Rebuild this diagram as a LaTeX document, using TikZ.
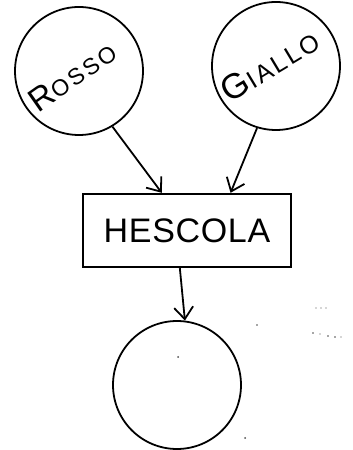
\documentclass[tikz,border=0pt]{standalone}
\usepackage{fontspec}
\setmainfont{Liberation Sans}
\usetikzlibrary{arrows.meta,calc}
\begin{document}
\begin{tikzpicture}[x=1pt,y=1pt,
  circ/.style={draw,circle,line width=1.8pt,minimum size=128pt,inner sep=0pt},
  boxnode/.style={draw,rectangle,line width=2.4pt,minimum width=208pt,minimum height=73pt,inner sep=0pt},
  conn/.style={line width=1.8pt,-{Straight Barb[length=12pt,width=19pt,line width=1.8pt]}},
  speck/.style={fill=black!70,draw=none}]
\useasboundingbox (0,0) rectangle (353,450);
\node[circ] (ro) at (79,379) {};
\node[circ] (gi) at (276,384) {};
\node[boxnode] (box) at (187,219.5) {};
\node[circ] (out) at (177,65) {};
\node[rotate=35] (rotxt) at (72,374) {{\fontsize{33}{33}\selectfont R}{\fontsize{23}{23}\selectfont\addfontfeature{LetterSpace=12}OSSO}};
\node[rotate=31] (gitxt) at (270,385) {{\fontsize{35}{35}\selectfont G}{\fontsize{25}{25}\selectfont\addfontfeature{LetterSpace=10}IALLO}};
\node (boxtxt) at (box.center) {\fontsize{34}{34}\selectfont\addfontfeature{LetterSpace=2}HESCOLA};
\coordinate (e1) at ($(box.north west)!0.38!(box.north east)$);
\coordinate (e2) at ($(box.north west)!0.707!(box.north east)$);
\coordinate (s3) at ($(box.south west)!0.466!(box.south east)$);
\draw[conn] (ro.-59.5) -- (e1);
\draw[conn] (gi.-107) -- (e2);
\draw[conn] (s3) -- (out.83);
\fill[speck] (257,125) circle (0.8);
\fill[speck] (178,93) circle (1);
\fill[speck] (245,12) circle (1);
\fill[speck] (316,142) circle (0.6);
\fill[speck] (321,142) circle (0.6);
\fill[speck] (326,142) circle (0.6);
\fill[speck] (313,117) circle (0.8);
\fill[speck] (320,116) circle (0.7);
\fill[speck] (328,114) circle (0.8);
\fill[speck] (335,113) circle (0.8);
\fill[speck] (341,113) circle (0.7);
\end{tikzpicture}
\end{document}
